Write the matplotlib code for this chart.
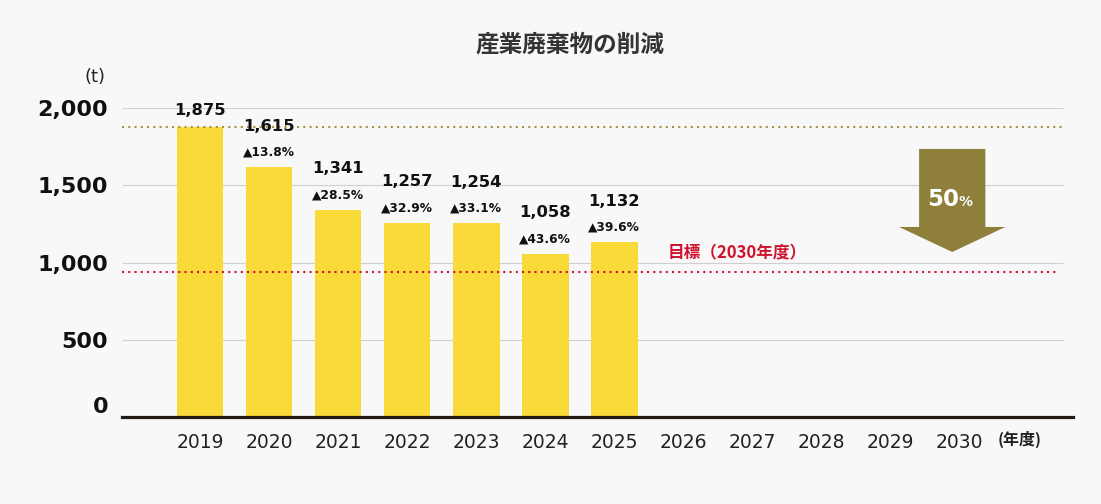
import numpy as np
import matplotlib.pyplot as plt

years = ['2019', '2020', '2021', '2022', '2023', '2024', '2025',
         '2026', '2027', '2028', '2029', '2030']
waste = [1875, 1615, 1341, 1257, 1254, 1058, 1132]
reduction = ['13.8', '28.5', '32.9', '33.1', '43.6', '39.6']
base_value = 1875
target_value = 937.5
yticks = [0, 500, 1000, 1500, 2000]
ytick_labels = ['0', '500', '1,000', '1,500', '2,000']

bg = '#f8f8f8'
bar_color = '#f9da38'
olive = '#8e7f3a'
red = '#d0122f'
cjk = ['Noto Sans CJK JP', 'DejaVu Sans']

W, H = 1101, 504
fig = plt.figure(figsize=(W / 100, H / 100), dpi=100, facecolor=bg)
ax = fig.add_axes([122 / W, 1 - 417 / H, (1073 - 122) / W, (417 - 108) / H])
ax.set_facecolor(bg)

x = np.arange(len(years))
ax.set_xlim(-1.13, 12.65)
ax.set_ylim(0, 2000)

# grid lines
for yv in yticks[1:]:
    ax.hlines(yv, -1.13, 12.5, color='#d0d0d0', lw=0.8, zorder=0)

# bars
ax.bar(x[:len(waste)], waste, width=0.68, color=bar_color, zorder=2)

# reference lines
ax.hlines(base_value, -1.13, 12.5, color='#a5943e', lw=1.5,
          linestyles=(0, (1, 2)), zorder=3)
ax.hlines(target_value, -1.13, 12.45, color=red, lw=1.5,
          linestyles=(0, (1, 2)), zorder=3)

# value labels
for i, v in enumerate(waste):
    off = 17 if i == 0 else 41
    ax.annotate(f'{v:,}', (x[i], v), xytext=(0, off), textcoords='offset pixels',
                ha='center', va='center', fontsize=11.8, fontweight='bold',
                color='#111111', zorder=4)
for i, r in enumerate(reduction):
    ax.annotate('▲' + r + '%', (x[i + 1], waste[i + 1]), xytext=(0, 15),
                textcoords='offset pixels', ha='center', va='center',
                fontsize=8.8, fontweight='bold', color='#111111', zorder=4)

# target label
ax.annotate('目標（2030年度）', (6.78, target_value), xytext=(0, 19),
            textcoords='offset pixels', ha='left', va='center',
            fontsize=12, fontweight='bold', color=red, family=cjk)

# arrow 50%
ax.arrow(10.9, 1735, 0, 1068 - 1735, width=0.96, head_width=1.54,
         head_length=1230 - 1068, length_includes_head=True,
         color=olive, lw=0, zorder=3)
ax.text(11.0, 1366, '50', ha='right', va='baseline', fontsize=16.5,
        fontweight='bold', color='white', zorder=4)
ax.text(10.99, 1366, '%', ha='left', va='baseline', fontsize=10,
        fontweight='bold', color='white', zorder=4)

# axes styling
for s in ['top', 'right', 'left']:
    ax.spines[s].set_visible(False)
ax.spines['bottom'].set_color('#231815')
ax.spines['bottom'].set_linewidth(2.3)
ax.spines['bottom'].set_zorder(5)

ax.set_xticks(x)
ax.set_xticklabels(years, fontsize=13.5, color='#222222')
ax.tick_params(axis='x', length=0, pad=11.5)
ax.set_yticks(yticks)
ax.set_yticklabels(ytick_labels, fontsize=16, fontweight='bold', color='#111111')
ax.tick_params(axis='y', length=0, pad=10)
ax.get_yticklabels()[0].set_va('bottom')
ax.get_yticklabels()[0].set_y(0)

ax.text(11.87, -0.074, '(年度)', transform=ax.get_xaxis_transform(),
        ha='center', va='center', fontsize=11.5, fontweight='bold',
        color='#222222', family=cjk)
fig.text(95 / W, 1 - 77 / H, '(t)', ha='center', va='center', fontsize=13,
         color='#222222')
fig.text(570 / W, 1 - 45 / H, '産業廃棄物の削減', ha='center', va='center',
         fontsize=17, fontweight='bold', color='#333333', family=cjk)

fig.savefig('out.png', dpi=100, facecolor=bg)
